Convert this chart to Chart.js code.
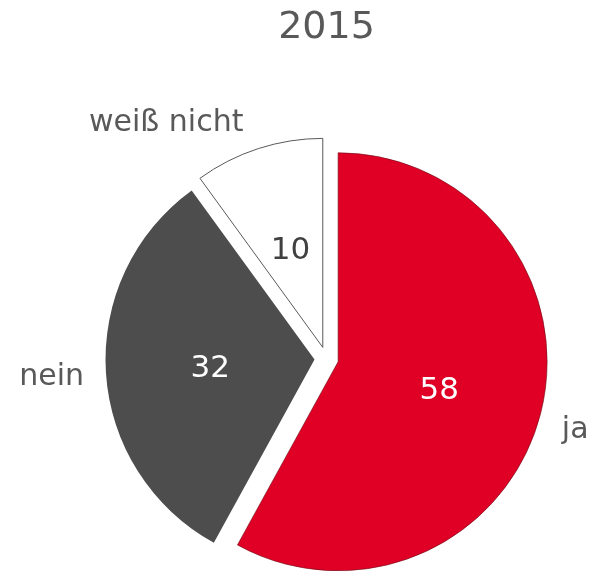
<!DOCTYPE html>
<html>
<head>
<meta charset="utf-8">
<script src="https://cdn.jsdelivr.net/npm/chart.js@4.4.1/dist/chart.umd.min.js"></script>
<style>
  html, body { margin: 0; padding: 0; background: #fff; }
  #wrap { width: 597px; height: 572px; }
</style>
</head>
<body>
<div id="wrap"><canvas id="pie"></canvas></div>
<script>
let categories = ["ja", "nein", "weiß nicht"];
let values = [58, 32, 10];
let sliceColors = ["#E00025", "#4D4D4D", "#FFFFFF"];
let valueColors = ["#FFFFFF", "#FFFFFF", "#404040"];
let chartTitle = "2015";

let fontFamily = "'DejaVu Sans', Verdana, sans-serif";
let explode = 12;

// shift each slice outward along its middle angle
let explodePlugin = {
    id: "explode",
    afterDatasetsUpdate(chart) {
        chart.getDatasetMeta(0).data.forEach(arc => {
            let mid = (arc.startAngle + arc.endAngle) / 2;
            arc.x += Math.cos(mid) * explode;
            arc.y += Math.sin(mid) * explode;
        });
    }
};

let labelPlugin = {
    id: "sliceLabels",
    afterDatasetsDraw(chart) {
        let ctx = chart.ctx;
        chart.getDatasetMeta(0).data.forEach((arc, i) => {
            let mid = (arc.startAngle + arc.endAngle) / 2;
            let dx = Math.cos(mid), dy = Math.sin(mid);
            let r = arc.outerRadius;
            ctx.save();
            // value inside
            ctx.font = "31px " + fontFamily;
            ctx.fillStyle = valueColors[i];
            ctx.textAlign = "center";
            ctx.textBaseline = "middle";
            ctx.fillText(values[i], arc.x + dx * r * 0.5, arc.y + dy * r * 0.5 + 3);
            // category outside
            ctx.font = "30px " + fontFamily;
            ctx.fillStyle = "#595959";
            let w = ctx.measureText(categories[i]).width;
            let px = arc.x + dx * (r + 22);
            let py = arc.y + dy * (r + 22);
            let sx = Math.abs(dx) > 0.2 ? Math.sign(dx) : 0;
            let nudge = 45 * dy * dx * dx;
            ctx.fillText(categories[i], px + sx * w / 2 - (sx < 0 && Math.abs(dy) > 0.5 ? 8 : 0), py + nudge);
            ctx.restore();
        });
    }
};

new Chart(document.getElementById("pie"), {
    type: "pie",
    data: {
        labels: categories,
        datasets: [{
            data: values,
            backgroundColor: sliceColors,
            borderColor: ["#6b0a14", "#4D4D4D", "#595959"],
            borderWidth: [0.6, 0, 1]
        }]
    },
    options: {
        responsive: true,
        maintainAspectRatio: false,
        animation: false,
        radius: 209,
        layout: { padding: { left: 56, right: 0, top: 0, bottom: 0 } },
        plugins: {
            legend: { display: false },
            tooltip: { enabled: false },
            title: {
                display: true,
                text: chartTitle,
                color: "#595959",
                font: { family: fontFamily, size: 38, weight: "normal" },
                padding: { top: 5, bottom: 95 }
            }
        }
    },
    plugins: [explodePlugin, labelPlugin]
});
</script>
</body>
</html>
